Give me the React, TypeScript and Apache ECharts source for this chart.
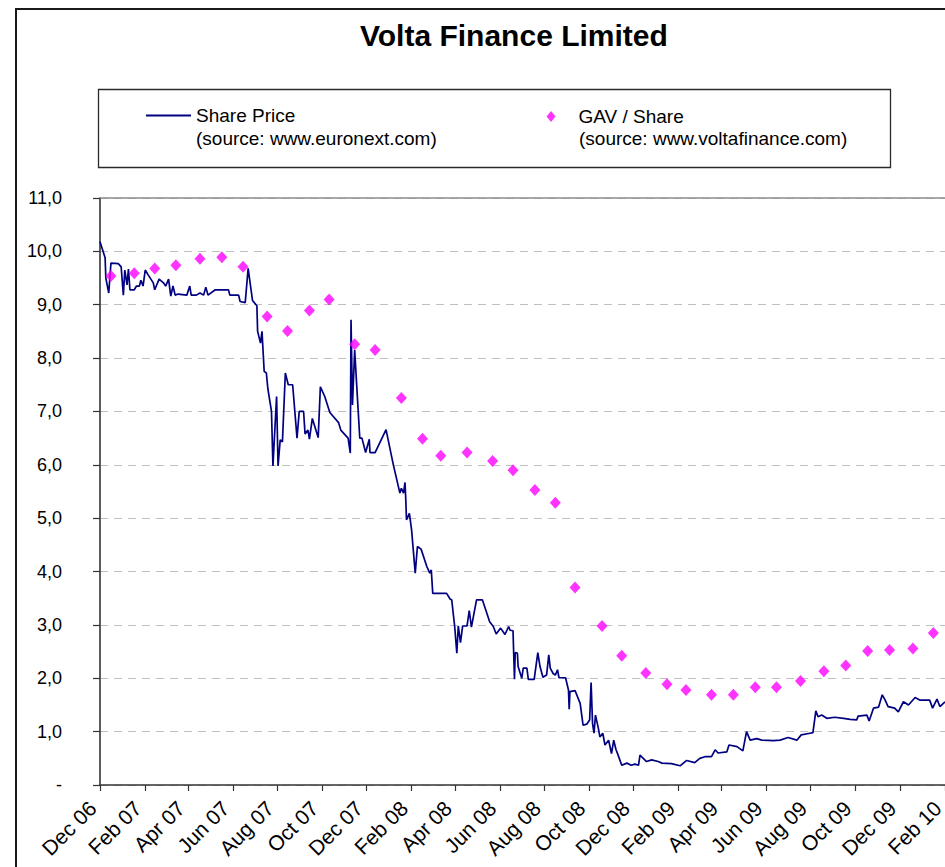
import React, { useEffect, useRef } from "react";
import * as echarts from "echarts";

const TITLE = "Volta Finance Limited";
const SERIES_NAMES = ["Share Price", "GAV / Share"];
const SOURCES = ["(source: www.euronext.com)", "(source: www.voltafinance.com)"];
const AXIS_START = "2006-12-01";
const AXIS_END = "2010-02-01";
const MONTH_NAMES = ["Jan", "Feb", "Mar", "Apr", "May", "Jun", "Jul", "Aug", "Sep", "Oct", "Nov", "Dec"];
const TICK_MONTHS = [12, 2, 4, 6, 8, 10];
const Y_MIN = 0;
const Y_MAX = 11;
const Y_STEP = 1;

// Share price (source: euronext), [date, value]
const SHARE_PRICE: [string, number][] = [
  ["2006-12-01", 10.18], ["2006-12-08", 9.88], ["2006-12-09", 9.5], ["2006-12-13", 9.22],
  ["2006-12-16", 9.78], ["2006-12-26", 9.77], ["2006-12-30", 9.71], ["2007-01-02", 9.18],
  ["2007-01-04", 9.65], ["2007-01-07", 9.37], ["2007-01-09", 9.67], ["2007-01-11", 9.28],
  ["2007-01-17", 9.28], ["2007-01-20", 9.35], ["2007-01-24", 9.35], ["2007-01-26", 9.46],
  ["2007-01-29", 9.35], ["2007-02-01", 9.65], ["2007-02-05", 9.56], ["2007-02-12", 9.41],
  ["2007-02-14", 9.28], ["2007-02-20", 9.48], ["2007-02-26", 9.41], ["2007-03-01", 9.35],
  ["2007-03-05", 9.48], ["2007-03-08", 9.16], ["2007-03-11", 9.35], ["2007-03-14", 9.18],
  ["2007-03-18", 9.2], ["2007-03-30", 9.18], ["2007-04-03", 9.35], ["2007-04-05", 9.18],
  ["2007-04-12", 9.18], ["2007-04-17", 9.22], ["2007-04-22", 9.18], ["2007-04-25", 9.33],
  ["2007-04-28", 9.18], ["2007-05-08", 9.28], ["2007-05-26", 9.28], ["2007-05-28", 9.18],
  ["2007-06-09", 9.18], ["2007-06-11", 9.06], ["2007-06-18", 9.04], ["2007-06-22", 9.68],
  ["2007-06-28", 9.08], ["2007-07-04", 8.98], ["2007-07-05", 8.5], ["2007-07-09", 8.28],
  ["2007-07-11", 8.5], ["2007-07-14", 7.75], ["2007-07-17", 7.72], ["2007-07-19", 7.43],
  ["2007-07-24", 7.0], ["2007-07-26", 5.98], ["2007-07-31", 7.28], ["2007-08-02", 5.98],
  ["2007-08-05", 6.47], ["2007-08-08", 6.43], ["2007-08-12", 7.72], ["2007-08-16", 7.5],
  ["2007-08-22", 7.5], ["2007-08-28", 6.5], ["2007-08-31", 7.0], ["2007-09-06", 7.0],
  ["2007-09-08", 6.58], ["2007-09-12", 6.65], ["2007-09-14", 6.48], ["2007-09-18", 6.87],
  ["2007-09-26", 6.51], ["2007-09-29", 7.46], ["2007-10-05", 7.28], ["2007-10-12", 6.98],
  ["2007-10-24", 6.79], ["2007-10-27", 6.65], ["2007-11-06", 6.5], ["2007-11-09", 6.22],
  ["2007-11-10", 8.72], ["2007-11-12", 7.12], ["2007-11-15", 8.15], ["2007-11-22", 6.5],
  ["2007-11-25", 6.5], ["2007-11-30", 6.23], ["2007-12-05", 6.48], ["2007-12-06", 6.23],
  ["2007-12-13", 6.23], ["2007-12-28", 6.66], ["2008-01-07", 6.0], ["2008-01-16", 5.47],
  ["2008-01-18", 5.56], ["2008-01-21", 5.47], ["2008-01-23", 5.67], ["2008-01-24", 5.37],
  ["2008-01-25", 4.97], ["2008-01-29", 5.09], ["2008-02-01", 4.78], ["2008-02-06", 3.97],
  ["2008-02-09", 4.47], ["2008-02-14", 4.42], ["2008-02-22", 4.09], ["2008-02-26", 3.97],
  ["2008-02-28", 4.03], ["2008-03-01", 3.59], ["2008-03-20", 3.59], ["2008-03-25", 3.48],
  ["2008-03-27", 3.47], ["2008-03-31", 2.98], ["2008-04-03", 2.47], ["2008-04-05", 2.98],
  ["2008-04-08", 2.67], ["2008-04-11", 2.98], ["2008-04-17", 2.98], ["2008-04-20", 3.27],
  ["2008-04-23", 2.96], ["2008-04-30", 3.47], ["2008-05-08", 3.47], ["2008-05-18", 3.06],
  ["2008-05-23", 2.97], ["2008-05-27", 2.83], ["2008-06-02", 2.94], ["2008-06-08", 2.82],
  ["2008-06-13", 2.97], ["2008-06-15", 2.9], ["2008-06-19", 2.89], ["2008-06-21", 1.98],
  ["2008-06-22", 2.48], ["2008-06-25", 2.47], ["2008-06-26", 2.22], ["2008-07-01", 2.0],
  ["2008-07-03", 2.19], ["2008-07-08", 2.19], ["2008-07-10", 1.98], ["2008-07-18", 1.98],
  ["2008-07-23", 2.48], ["2008-07-26", 2.22], ["2008-07-30", 2.02], ["2008-08-04", 2.06],
  ["2008-08-07", 2.44], ["2008-08-09", 2.19], ["2008-08-13", 2.09], ["2008-08-16", 2.06],
  ["2008-08-19", 2.16], ["2008-08-21", 2.01], ["2008-08-30", 2.01], ["2008-09-03", 1.78],
  ["2008-09-04", 1.42], ["2008-09-05", 1.75], ["2008-09-12", 1.77], ["2008-09-19", 1.53],
  ["2008-09-23", 1.12], ["2008-09-28", 1.14], ["2008-10-02", 1.22], ["2008-10-04", 1.92],
  ["2008-10-06", 1.15], ["2008-10-08", 0.97], ["2008-10-10", 1.31], ["2008-10-14", 1.06],
  ["2008-10-16", 0.9], ["2008-10-20", 0.97], ["2008-10-23", 0.75], ["2008-10-28", 0.84],
  ["2008-11-01", 0.59], ["2008-11-04", 0.84], ["2008-11-07", 0.67], ["2008-11-10", 0.56],
  ["2008-11-15", 0.37], ["2008-11-22", 0.41], ["2008-11-28", 0.37], ["2008-12-03", 0.39],
  ["2008-12-08", 0.37], ["2008-12-10", 0.56], ["2008-12-19", 0.44], ["2008-12-26", 0.47],
  ["2009-01-04", 0.44], ["2009-01-09", 0.41], ["2009-01-22", 0.4], ["2009-02-03", 0.36],
  ["2009-02-12", 0.46], ["2009-02-23", 0.42], ["2009-03-02", 0.5], ["2009-03-09", 0.53],
  ["2009-03-18", 0.53], ["2009-03-23", 0.66], ["2009-03-27", 0.6], ["2009-04-08", 0.62],
  ["2009-04-11", 0.75], ["2009-04-22", 0.72], ["2009-04-30", 0.64], ["2009-05-05", 1.0],
  ["2009-05-10", 0.84], ["2009-05-19", 0.87], ["2009-05-26", 0.84], ["2009-06-11", 0.83],
  ["2009-06-20", 0.84], ["2009-07-01", 0.89], ["2009-07-13", 0.84], ["2009-07-19", 0.94],
  ["2009-07-31", 0.97], ["2009-08-04", 0.98], ["2009-08-08", 1.39], ["2009-08-11", 1.28],
  ["2009-08-16", 1.31], ["2009-08-23", 1.25], ["2009-09-03", 1.27], ["2009-09-15", 1.25],
  ["2009-09-24", 1.23], ["2009-10-03", 1.22], ["2009-10-05", 1.29], ["2009-10-17", 1.31],
  ["2009-10-20", 1.2], ["2009-10-26", 1.44], ["2009-11-02", 1.46], ["2009-11-07", 1.69],
  ["2009-11-11", 1.59], ["2009-11-15", 1.47], ["2009-11-24", 1.44], ["2009-11-29", 1.37],
  ["2009-12-06", 1.56], ["2009-12-13", 1.5], ["2009-12-22", 1.64], ["2009-12-29", 1.59],
  ["2010-01-11", 1.59], ["2010-01-15", 1.44], ["2010-01-21", 1.61], ["2010-01-25", 1.47],
  ["2010-02-01", 1.56],
];

// GAV per share (source: voltafinance), [date, value]
const GAV_PER_SHARE: [string, number][] = [
  ["2006-12-16", 9.54], ["2007-01-17", 9.59], ["2007-02-14", 9.68], ["2007-03-15", 9.74],
  ["2007-04-17", 9.86], ["2007-05-17", 9.89], ["2007-06-15", 9.71], ["2007-07-18", 8.78],
  ["2007-08-15", 8.51], ["2007-09-14", 8.89], ["2007-10-11", 9.1], ["2007-11-15", 8.26],
  ["2007-12-13", 8.15], ["2008-01-18", 7.25], ["2008-02-16", 6.49], ["2008-03-12", 6.17],
  ["2008-04-17", 6.23], ["2008-05-22", 6.07], ["2008-06-19", 5.9], ["2008-07-19", 5.53],
  ["2008-08-16", 5.29], ["2008-09-12", 3.7], ["2008-10-19", 2.98], ["2008-11-15", 2.42],
  ["2008-12-18", 2.1], ["2009-01-16", 1.89], ["2009-02-11", 1.78], ["2009-03-18", 1.69],
  ["2009-04-17", 1.69], ["2009-05-17", 1.83], ["2009-06-15", 1.83], ["2009-07-18", 1.95],
  ["2009-08-19", 2.13], ["2009-09-18", 2.24], ["2009-10-18", 2.51], ["2009-11-17", 2.53],
  ["2009-12-19", 2.56], ["2010-01-16", 2.85],
];

const FONT = "'Liberation Sans', Arial, Helvetica, sans-serif";

function buildDays(start: string, end: string): string[] {
  const out: string[] = [];
  const s = new Date(start + "T00:00:00Z").getTime();
  const e = new Date(end + "T00:00:00Z").getTime();
  for (let t = s; t <= e; t += 86400000) {
    out.push(new Date(t).toISOString().slice(0, 10));
  }
  return out;
}

const DAYS = buildDays(AXIS_START, AXIS_END);

function isTickDay(v: string): boolean {
  const m = parseInt(v.slice(5, 7), 10);
  return v.slice(8, 10) === "01" && TICK_MONTHS.indexOf(m) >= 0;
}

function fmtDay(v: string): string {
  const m = parseInt(v.slice(5, 7), 10);
  return MONTH_NAMES[m - 1] + " " + v.slice(2, 4);
}

export default function App() {
  const ref = useRef<HTMLDivElement>(null);
  useEffect(() => {
    if (!ref.current) return;
    const chart = echarts.init(ref.current, null, { renderer: "svg" });
    chart.setOption({
      animation: false,
      backgroundColor: "#ffffff",
      title: {
        text: TITLE,
        left: 360,
        top: 20,
        padding: 0,
        textStyle: { fontFamily: FONT, fontSize: 30, fontWeight: "bold", color: "#000" },
      },
      legend: [
        {
          data: [{ name: SERIES_NAMES[0], icon: "rect" }],
          left: 146,
          top: 106,
          padding: 0,
          itemWidth: 45,
          itemHeight: 2,
          itemGap: 5,
          textStyle: { fontFamily: FONT, fontSize: 19, color: "#000" },
          selectedMode: false,
        },
        {
          data: [{ name: SERIES_NAMES[1], icon: "diamond" }],
          left: 546.5,
          top: 107,
          padding: 0,
          itemWidth: 9,
          itemHeight: 11,
          itemGap: 5,
          textStyle: { fontFamily: FONT, fontSize: 19, color: "#000", padding: [0, 0, 0, 18] },
          selectedMode: false,
        },
      ],
      graphic: [
        {
          type: "polyline",
          silent: true,
          shape: { points: [[16, 867], [16, 9], [945, 9]] },
          style: { stroke: "#1a1a1a", lineWidth: 2, fill: "none" },
        },
        {
          type: "rect",
          silent: true,
          shape: { x: 98.5, y: 89.5, width: 792, height: 78 },
          style: { stroke: "#2a2a2a", lineWidth: 1.3, fill: "none" },
        },
        {
          type: "text",
          silent: true,
          x: 196,
          y: 138,
          style: { text: SOURCES[0], font: `19px ${FONT}`, fill: "#000", verticalAlign: "middle" },
        },
        {
          type: "text",
          silent: true,
          x: 579,
          y: 138,
          style: { text: SOURCES[1], font: `19px ${FONT}`, fill: "#000", verticalAlign: "middle" },
        },
      ],
      grid: { left: 100, right: 0, top: 198, bottom: 82, outerBoundsMode: "none", containLabel: false },
      xAxis: [
        {
          type: "category",
          data: DAYS,
          boundaryGap: false,
          axisLine: { show: true, lineStyle: { color: "#333", width: 1.6 } },
          axisTick: {
            show: true,
            interval: (_i: number, v: string) => isTickDay(v),
            length: 6,
            lineStyle: { color: "#333", width: 1.2 },
          },
          axisLabel: {
            show: true,
            interval: (_i: number, v: string) => isTickDay(v),
            formatter: (v: string) => fmtDay(v),
            rotate: 45,
            margin: 27,
            align: "right",
            verticalAlign: "bottom",
            fontFamily: FONT,
            fontSize: 21,
            color: "#000",
          },
          splitLine: { show: false },
        },
        {
          type: "category",
          data: DAYS,
          boundaryGap: false,
          position: "top",
          axisLine: { show: true, lineStyle: { color: "#8c8c8c", width: 1.5 } },
          axisTick: { show: false },
          axisLabel: { show: false },
          splitLine: { show: false },
        },
      ],
      yAxis: {
        type: "value",
        min: Y_MIN,
        max: Y_MAX,
        interval: Y_STEP,
        axisLine: { show: true, lineStyle: { color: "#333", width: 1.6 } },
        axisTick: { show: true, inside: false, length: 7, lineStyle: { color: "#333", width: 1.2 } },
        axisLabel: {
          margin: 38,
          fontFamily: FONT,
          fontSize: 18,
          color: "#000",
          formatter: (v: number) => (v === 0 ? "-" : v.toFixed(1).replace(".", ",")),
        },
        splitLine: {
          show: true,
          lineStyle: { color: "#c0c0c0", width: 1.2, type: [8, 6] },
        },
      },
      series: [
        {
          name: SERIES_NAMES[0],
          type: "line",
          xAxisIndex: 0,
          data: SHARE_PRICE,
          showSymbol: false,
          symbol: "none",
          color: "#000080",
          lineStyle: { color: "#000080", width: 1.7 },
          z: 2,
        },
        {
          name: SERIES_NAMES[1],
          type: "scatter",
          xAxisIndex: 0,
          data: GAV_PER_SHARE,
          symbol: "diamond",
          symbolSize: [11, 12],
          color: "#ff00ff",
          itemStyle: { color: "#ff00ff" },
          z: 3,
        },
      ],
    });
    return () => chart.dispose();
  }, []);
  return (
    <div
      ref={ref}
      style={{ position: "absolute", left: 0, top: 0, width: 945, height: 867 }}
    />
  );
}
